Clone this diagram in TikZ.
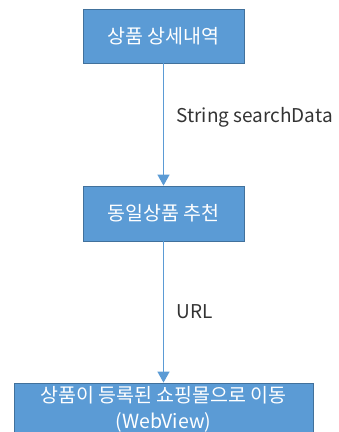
\documentclass[tikz,border=0pt]{standalone}
\usepackage{fontspec}
\setmainfont{Noto Sans CJK KR}
\usepackage{tikz}
\usetikzlibrary{arrows.meta}
\definecolor{boxblue}{HTML}{5B9BD5}
\definecolor{boxline}{HTML}{41719C}

\begin{document}
\begin{tikzpicture}
                [
                x=1pt,y=-1pt,
                step box/.style={rectangle,draw=boxline,fill=boxblue,thick,text=white,
                  inner sep=0pt,minimum width=161pt,font=\fontsize{19.5}{26}\selectfont},
                edge/.style={draw=boxblue,line width=1.3pt,-{Triangle[width=12pt,length=11pt]}},
                label/.style={anchor=west,font=\fontsize{19}{22}\selectfont,text=black!80}
                ]
            \useasboundingbox (0,0) rectangle (339,432);
            \clip (0,0) rectangle (339,432);
            \node[step box,minimum height=54pt] (detail) at (163.5,36) {상품 상세내역};
            \node[step box,minimum height=55pt] (recommend) at (163.5,213.5) {동일상품 추천};
            \node[step box,minimum width=299pt,minimum height=52pt,align=center] (shop) at (163.5,409)
                {상품이 등록된 쇼핑몰으로 이동\\(WebView)};
            \draw[edge] (detail) -- (recommend);
            \draw[edge] (recommend) -- (shop);
            \node[label] (data) at (173,117) {String searchData};
            \node[label] (url) at (173,312) {URL};
            \end{tikzpicture}
\end{document}
